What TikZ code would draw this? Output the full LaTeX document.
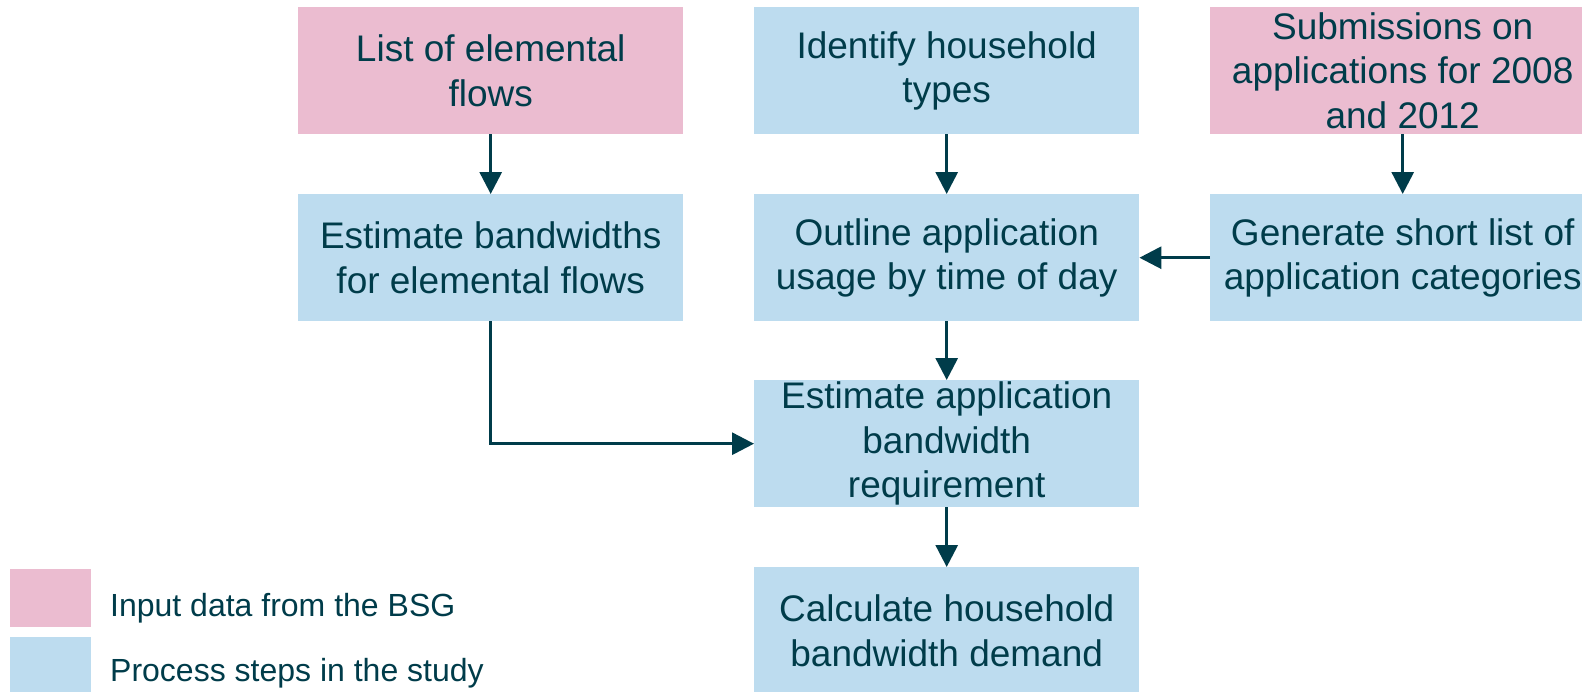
\documentclass[tikz,border=0pt]{standalone}
\usepackage{fontspec}
\setmainfont{Liberation Sans}
\usetikzlibrary{arrows.meta}
\definecolor{inpink}{HTML}{EBBCD0}
\definecolor{procblue}{HTML}{BDDCEF}
\definecolor{ink}{HTML}{003C4A}
\tikzset{
  box/.style={minimum width=385pt, minimum height=127pt, inner sep=0pt, align=center,
    text=ink, font=\fontsize{37pt}{44.4pt}\selectfont, anchor=north west},
  inbox/.style={box, fill=inpink},
  procbox/.style={box, fill=procblue},
  flow/.style={draw=ink, line width=3pt, -{Triangle[length=22pt,width=22pt]}},
  legtext/.style={text=ink, font=\fontsize{32pt}{38pt}\selectfont, anchor=base west, inner sep=0pt}
}
\begin{document}
\begin{tikzpicture}[x=1pt, y=-1pt]
\clip (0,0) rectangle (1582,691);
\fill[white] (0,0) rectangle (1582,691);
% row 1
\node[inbox] (flows) at (298,7) {List of elemental\\flows};
\node[procbox] (types) at (754,7) {Identify household\\types};
\node[inbox] (subm) at (1210,7) {Submissions on\\applications for 2008\\and 2012};
% row 2
\node[procbox] (estbw) at (298,194) {Estimate bandwidths\\for elemental flows};
\node[procbox] (usage) at (754,194) {Outline application\\usage by time of day};
\node[procbox] (cats) at (1210,194) {Generate short list of\\application categories};
% row 3
\node[procbox] (appreq) at (754,380) {Estimate application\\bandwidth\\requirement};
% row 4
\node[procbox] (demand) at (754,567) {Calculate household\\bandwidth demand};
% legend
\fill[inpink] (10,569) rectangle (91,627);
\fill[procblue] (10,637) rectangle (91,700);
\node[legtext] (leg1) at (110,616) {Input data from the BSG};
\node[legtext] (leg2) at (110,681) {Process steps in the study};
% connectors
\draw[flow] (flows.south) -- (estbw.north);
\draw[flow] (types.south) -- (usage.north);
\draw[flow] (subm.south) -- (cats.north);
\draw[flow] (cats.west) -- (usage.east);
\draw[flow] (usage.south) -- (appreq.north);
\draw[flow] (appreq.south) -- (demand.north);
\draw[flow] (estbw.south) |- (appreq.west);
\end{tikzpicture}
\end{document}
